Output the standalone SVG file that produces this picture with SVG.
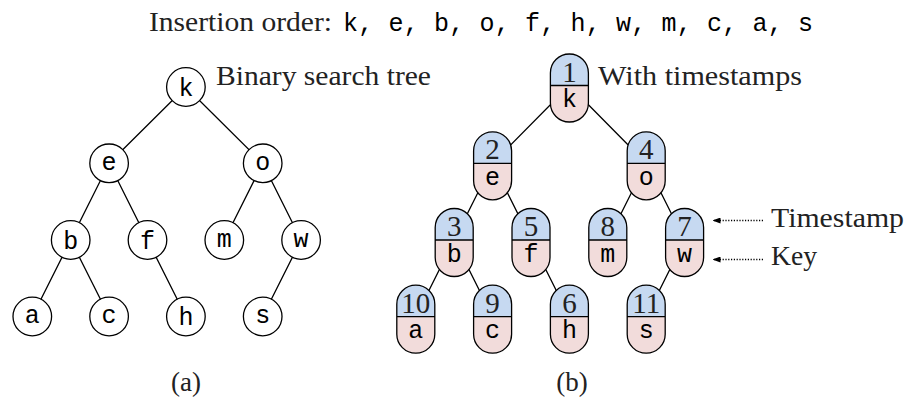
<svg xmlns="http://www.w3.org/2000/svg" xmlns:xlink="http://www.w3.org/1999/xlink" width="907" height="404" viewBox="0 0 907 404">
<style>
.edge{stroke:#000;stroke-width:1.3;fill:none}
.circ{fill:#fff;stroke:#000;stroke-width:1.3}
.outl{fill:none;stroke:#000;stroke-width:1.3}
.ts{fill:#c6d9f1}
.kf{fill:#f2dcdb}
.key{font-family:"Liberation Mono",monospace;font-size:25px;text-anchor:middle;fill:#000}
.num{font-family:"Liberation Serif",serif;font-size:29px;text-anchor:middle;fill:#222}
.lbl{font-family:"Liberation Serif",serif;font-size:27px;fill:#222}
.dot{stroke:#000;stroke-width:1.3;stroke-dasharray:1.2 1.6;fill:none}
</style>
<defs>
<g id="pill">
<path class="ts" d="M-19,0 V-12.5 A19,19 0 0 1 19,-12.5 V0 Z"/>
<path class="kf" d="M-19,0 V17.5 A19,19 0 0 0 19,17.5 V0 Z"/>
<path class="outl" d="M-19,-12.5 A19,19 0 0 1 19,-12.5 V17.5 A19,19 0 0 1 -19,17.5 Z M-19,0 H19"/>
</g>
<circle id="circ" class="circ" r="19.3"/>
<marker id="arr" markerWidth="8" markerHeight="6" refX="7.5" refY="3" orient="auto" markerUnits="userSpaceOnUse">
<path d="M0,0 L8,3 L0,6 Z" fill="#000"/>
</marker>
</defs>

<text id="title" class="lbl" x="149" y="31"><tspan textLength="183" lengthAdjust="spacingAndGlyphs">Insertion order:</tspan><tspan x="343" style="font-family:'Liberation Mono',monospace;font-size:25px;fill:#000" textLength="470" lengthAdjust="spacing">k, e, b, o, f, h, w, m, c, a, s</tspan></text>

<g id="connectors">
<path class="edge" d="M185.9,87 L109.1,163.3 M185.9,87 L262.7,163.3 M109.1,163.3 L70.7,240 M109.1,163.3 L147.5,240 M262.7,163.3 L224.3,240 M262.7,163.3 L301.1,240 M70.7,240 L32.3,316.5 M70.7,240 L109.1,316.5 M147.5,240 L185.9,316.5 M301.1,240 L262.7,316.5"/>
<path class="edge" d="M569.4,85.5 L492.6,163.3 M569.4,85.5 L646.2,163.3 M492.6,163.3 L454.2,240 M492.6,163.3 L531,240 M646.2,163.3 L607.8,240 M646.2,163.3 L684.6,240 M454.2,240 L415.8,316.7 M454.2,240 L492.6,316.7 M531,240 L569.4,316.7 M684.6,240 L646.2,316.7"/>
<line class="dot" x1="763" y1="220.5" x2="713" y2="220.5" marker-end="url(#arr)"/>
<line class="dot" x1="763" y1="259.5" x2="713" y2="259.5" marker-end="url(#arr)"/>
</g>

<g id="bst-k" transform="translate(185.9,87)"><use href="#circ"/><text class="key" y="8.6">k</text></g>
<g id="bst-e" transform="translate(109.1,163.3)"><use href="#circ"/><text class="key" y="6.6">e</text></g>
<g id="bst-o" transform="translate(262.7,163.3)"><use href="#circ"/><text class="key" y="6.6">o</text></g>
<g id="bst-b" transform="translate(70.7,240)"><use href="#circ"/><text class="key" y="8.6">b</text></g>
<g id="bst-f" transform="translate(147.5,240)"><use href="#circ"/><text class="key" y="8.6">f</text></g>
<g id="bst-m" transform="translate(224.3,240)"><use href="#circ"/><text class="key" y="6.6">m</text></g>
<g id="bst-w" transform="translate(301.1,240)"><use href="#circ"/><text class="key" y="6.6">w</text></g>
<g id="bst-a" transform="translate(32.3,316.5)"><use href="#circ"/><text class="key" y="6.6">a</text></g>
<g id="bst-c" transform="translate(109.1,316.5)"><use href="#circ"/><text class="key" y="6.6">c</text></g>
<g id="bst-h" transform="translate(185.9,316.5)"><use href="#circ"/><text class="key" y="8.6">h</text></g>
<g id="bst-s" transform="translate(262.7,316.5)"><use href="#circ"/><text class="key" y="6.6">s</text></g>

<g id="ts-k" transform="translate(569.4,85.5)"><use href="#pill"/><text class="num" y="-4">1</text><text class="key" y="21.5">k</text></g>
<g id="ts-e" transform="translate(492.6,163.3)"><use href="#pill"/><text class="num" y="-4">2</text><text class="key" y="21.5">e</text></g>
<g id="ts-o" transform="translate(646.2,163.3)"><use href="#pill"/><text class="num" y="-4">4</text><text class="key" y="21.5">o</text></g>
<g id="ts-b" transform="translate(454.2,240)"><use href="#pill"/><text class="num" y="-4">3</text><text class="key" y="21.5">b</text></g>
<g id="ts-f" transform="translate(531,240)"><use href="#pill"/><text class="num" y="-4">5</text><text class="key" y="21.5">f</text></g>
<g id="ts-m" transform="translate(607.8,240)"><use href="#pill"/><text class="num" y="-4">8</text><text class="key" y="21.5">m</text></g>
<g id="ts-w" transform="translate(684.6,240)"><use href="#pill"/><text class="num" y="-4">7</text><text class="key" y="21.5">w</text></g>
<g id="ts-a" transform="translate(415.8,316.7)"><use href="#pill"/><text class="num" y="-4">10</text><text class="key" y="21.5">a</text></g>
<g id="ts-c" transform="translate(492.6,316.7)"><use href="#pill"/><text class="num" y="-4">9</text><text class="key" y="21.5">c</text></g>
<g id="ts-h" transform="translate(569.4,316.7)"><use href="#pill"/><text class="num" y="-4">6</text><text class="key" y="21.5">h</text></g>
<g id="ts-s" transform="translate(646.2,316.7)"><use href="#pill"/><text class="num" y="-4">11</text><text class="key" y="21.5">s</text></g>

<g id="labels">
<text class="lbl" x="216" y="85" textLength="215" lengthAdjust="spacingAndGlyphs">Binary search tree</text>
<text class="lbl" x="598" y="85" textLength="204" lengthAdjust="spacingAndGlyphs">With timestamps</text>
<text class="lbl" x="771" y="227" textLength="133" lengthAdjust="spacingAndGlyphs">Timestamp</text>
<text class="lbl" x="771" y="265" textLength="46" lengthAdjust="spacingAndGlyphs">Key</text>
<text class="lbl" x="186" y="391" text-anchor="middle">(a)</text>
<text class="lbl" x="572" y="391" text-anchor="middle">(b)</text>
</g>
</svg>
